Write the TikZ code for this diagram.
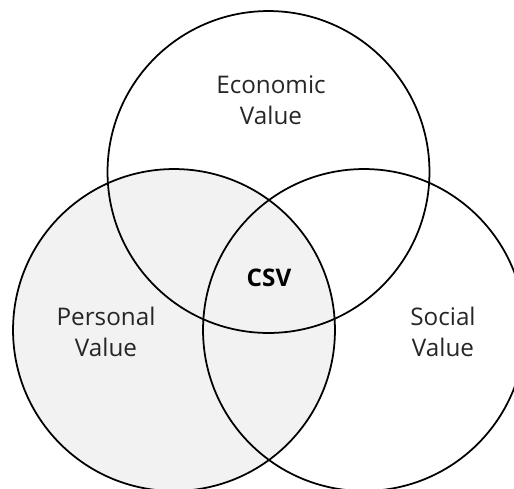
\documentclass[tikz,border=0pt]{standalone}
\usepackage{fontspec}
\setmainfont{Open Sans}
\definecolor{personalfill}{HTML}{F2F2F2}
\tikzset{
  ring/.style={draw=black, line width=1pt},
  vlabel/.style={align=center, font=\fontsize{13.8}{17.6}\selectfont, text=black!85},
}
\begin{document}
\begin{tikzpicture}[x=0.02cm,y=-0.02cm]
    \useasboundingbox (0,0) rectangle (514,488);
    \clip (0,0) rectangle (514,488);
    % centres of the three circles
    \coordinate (econ) at (268.5,172);
    \coordinate (pers) at (174,330);
    \coordinate (soc) at (364,330);
\fill[personalfill] (pers) circle [radius=3.22cm];
\draw[ring] (econ) circle [radius=3.22cm];
\draw[ring] (pers) circle [radius=3.22cm];
\draw[ring] (soc) circle [radius=3.22cm];
\node[vlabel] (econlabel) at (271,100) {Economic\\Value};
\node[vlabel] (perslabel) at (106,332) {Personal\\Value};
\node[vlabel] (soclabel) at (443,332) {Social\\Value};
\node[vlabel, font=\fontsize{13.8}{17.6}\selectfont\bfseries, text=black] (csv) at (269,278) {CSV};

\end{tikzpicture}
\end{document}
